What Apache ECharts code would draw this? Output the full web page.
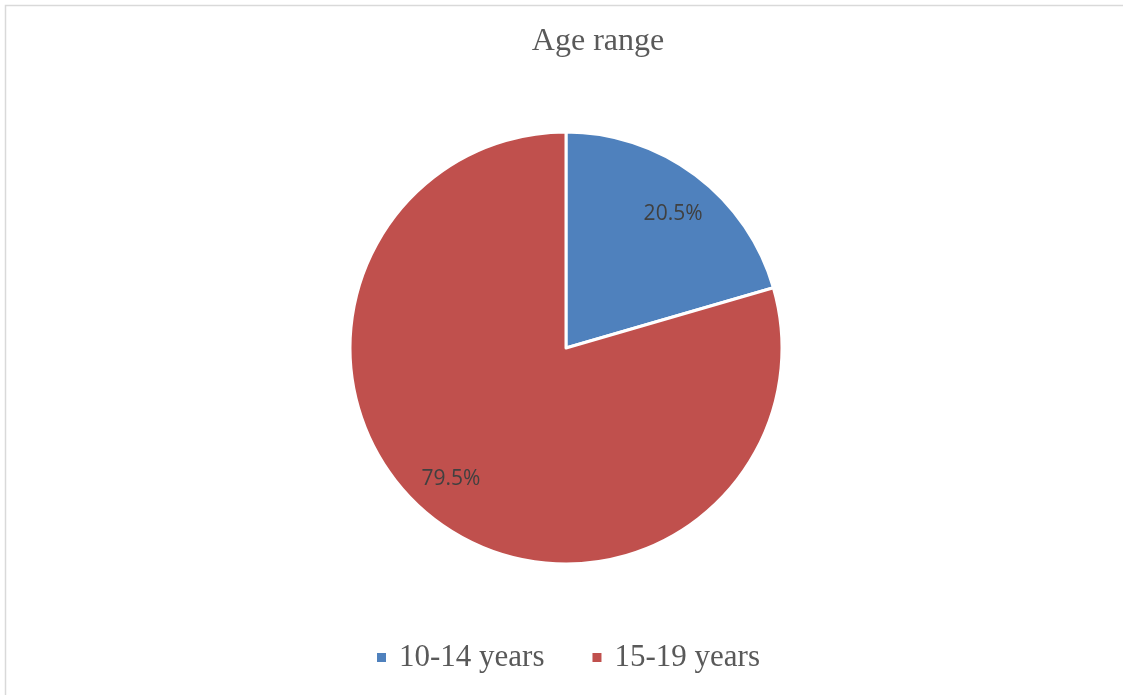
<!DOCTYPE html>
<html>
<head>
<meta charset="utf-8">
<script src="https://cdn.jsdelivr.net/npm/echarts@6/dist/echarts.min.js"></script>
<style>
  html, body { margin: 0; padding: 0; background: #ffffff; }
  #chart { width: 1123px; height: 695px; }
</style>
</head>
<body>
<div id="chart"></div>
<script>
// Age groups and their shares (percent)
const categories = ['10-14 years', '15-19 years'];
const shares = [20.5, 79.5];
const colors = ['#4F81BD', '#C0504D'];

const pieData = categories.map((name, i) => ({
  name: name,
  value: shares[i],
  itemStyle: { color: colors[i] }
}));

const center = [566, 348];
const radius = 216;

// small nudges for the percentage labels
const labelNudge = [[2, 6], [-10, -9]];

const chart = echarts.init(document.getElementById('chart'), null, { renderer: 'canvas' });

chart.setOption({
  animation: false,
  backgroundColor: '#ffffff',
  title: {
    text: 'Age range',
    left: 593,
    top: 21,
    textAlign: 'center',
    textStyle: {
      fontFamily: '"Liberation Serif", "Times New Roman", serif',
      fontWeight: 'normal',
      fontSize: 32,
      color: '#595959'
    }
  },
  legend: {
    data: categories,
    left: 375,
    top: 642,
    padding: 0,
    icon: 'rect',
    itemWidth: 11,
    itemHeight: 11,
    itemGap: 46,
    textStyle: {
      fontFamily: '"Liberation Serif", "Times New Roman", serif',
      fontSize: 31,
      color: '#595959',
      padding: [0, 0, 0, 7]
    }
  },
  graphic: [{
    type: 'rect',
    silent: true,
    shape: { x: 5.5, y: 5.5, width: 1140, height: 720 },
    style: { fill: 'none', stroke: '#d9d9d9', lineWidth: 1.5 }
  }],
  series: [
    {
      // filled slices
      type: 'pie',
      center: center,
      radius: [0, radius],
      startAngle: 90,
      clockwise: true,
      label: { show: false },
      labelLine: { show: false },
      itemStyle: { borderColor: '#ffffff', borderWidth: 3 },
      emphasis: { disabled: true },
      data: pieData
    },
    {
      // transparent ring carrying the percentage labels near the rim
      type: 'pie',
      silent: true,
      center: center,
      radius: [128, radius],
      startAngle: 90,
      clockwise: true,
      legendHoverLink: false,
      itemStyle: { color: 'rgba(0,0,0,0)', borderWidth: 0 },
      label: {
        show: true,
        position: 'inside',
        formatter: p => p.value.toFixed(1) + '%',
        fontFamily: '"Open Sans", sans-serif',
        fontSize: 21,
        color: '#404040'
      },
      labelLayout: p => ({ dx: labelNudge[p.dataIndex][0], dy: labelNudge[p.dataIndex][1] }),
      labelLine: { show: false },
      emphasis: { disabled: true },
      data: categories.map((name, i) => ({ name: name + ' ', value: shares[i] }))
    }
  ]
});
</script>
</body>
</html>
